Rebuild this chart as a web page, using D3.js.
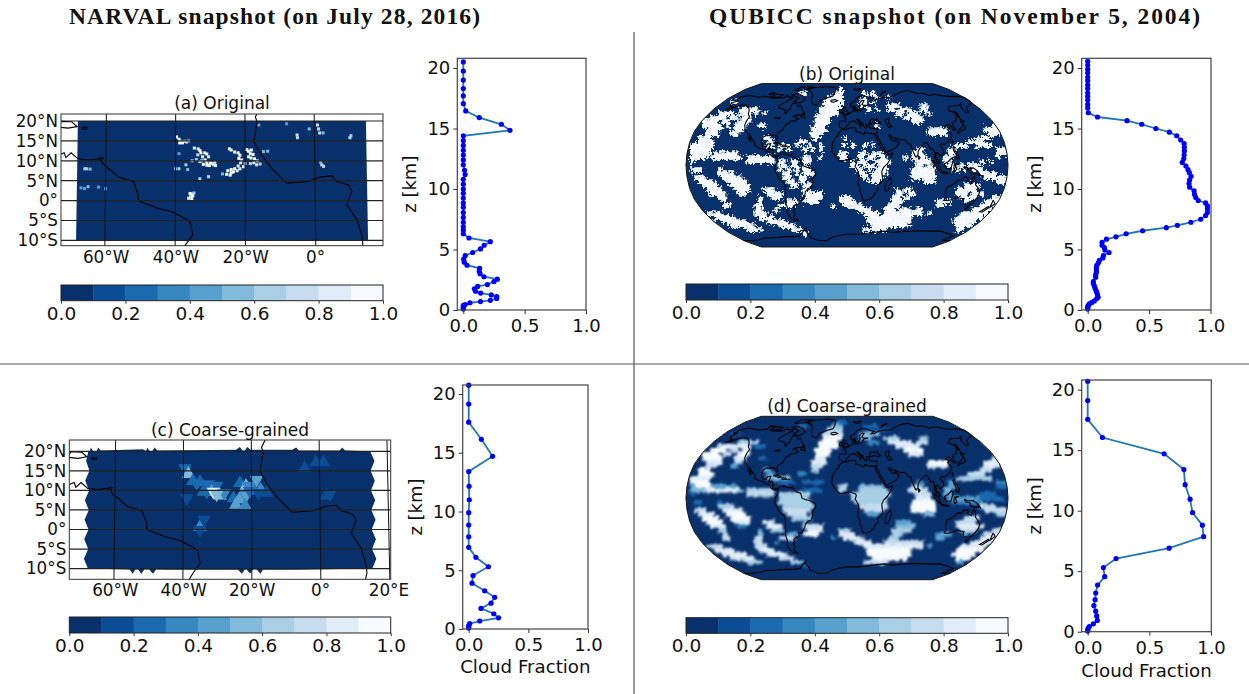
<!DOCTYPE html>
<html>
<head>
<meta charset="utf-8">
<script src="https://cdn.jsdelivr.net/npm/d3@7"></script>
<style>
  body { margin: 0; background: #fff; }
  text { font-family: "DejaVu Sans", sans-serif; fill: #111; }
  .axis .domain { stroke: #333; }
  .axis line { stroke: #333; }
</style>
</head>
<body>
<svg id="fig" width="1249" height="694"></svg>
<script>
// --- data ---
const cmapColors = ['#08306b', '#0a4d94', '#1b69af', '#3787c0', '#58a1cf', '#82badb', '#a9cfe5', '#c7dcef', '#e0ecf8', '#f7fbff'];
const cbarTicks = [0, 0.2, 0.4, 0.6, 0.8, 1];
const cfTicks = [0, 0.5, 1];
const zTicks = [0, 5, 10, 15, 20];
const latTicks = [20, 15, 10, 5, 0, -5, -10];
const lonTicksA = [-60, -40, -20, 0];
const lonTicksC = [-60, -40, -20, 0, 20];

// profiles: cloud fraction against height
const zA = [20.5,19.75,19,18.3,17.7,17.05,16.45,15.9,15.35,14.85,14.4,14,13.6,13.2,12.8,12.4,12,11.55,11.2,10.8,10.4,10,9.65,9.25,8.85,8.5,8.05,7.65,7.25,6.9,6.6,6.3,5.95,5.65,5.35,5.05,4.75,4.5,4.2,3.95,3.7,3.45,3.2,3,2.75,2.55,2.35,2.1,1.95,1.75,1.55,1.4,1.25,1.1,0.95,0.8,0.7,0.6,0.45,0.38,0.27,0.16,0.08];
const cfA = [0,0,0,0,0,0,0.02,0.13,0.31,0.38,0,0,0,0,0,0,0,0.01,0.015,0,0,0,0,0,0,0,0,0,0,0,0,0,0.046,0.22,0.17,0.14,0.076,0.016,0.003,0.008,0.03,0.133,0.13,0.136,0.168,0.277,0.25,0.196,0.117,0.09,0.1,0.141,0.228,0.272,0.272,0.22,0.14,0.054,0.016,0,0,0,0];
const zB = [20.55,20.25,19.9,19.6,19.25,18.95,18.6,18.3,17.95,17.65,17.35,17,16.7,16.3,15.95,15.65,15.35,15,14.7,14.4,14.05,13.75,13.45,13.15,12.8,12.5,12.2,11.9,11.6,11.35,11.05,10.75,10.45,10.15,9.85,9.55,9.3,9.05,8.85,8.6,8.35,8.05,7.8,7.5,7.25,7,6.8,6.55,6.3,6.05,5.85,5.6,5.35,5.15,4.95,4.75,4.5,4.3,4.1,3.9,3.7,3.5,3.3,3.1,2.9,2.7,2.35,2.2,2,1.8,1.6,1.45,1.25,1.05,0.95,0.75,0.63,0.5,0.38,0.28,0.17,0.08];
const cfB = [0,0,0,0,0,0,0,0,0,0,0,0,0,0.005,0.08,0.32,0.44,0.555,0.665,0.725,0.757,0.785,0.787,0.787,0.785,0.782,0.77,0.8,0.817,0.828,0.842,0.83,0.825,0.83,0.866,0.87,0.88,0.9,0.96,0.975,0.975,0.975,0.96,0.92,0.84,0.73,0.64,0.447,0.313,0.23,0.153,0.117,0.117,0.136,0.14,0.174,0.128,0.123,0.095,0.087,0.074,0.071,0.071,0.07,0.065,0.065,0.046,0.046,0.054,0.06,0.068,0.074,0.08,0.085,0.074,0.054,0.033,0.014,0.005,0,0,0];
const zC = [20.75,19.15,17.6,16.15,14.7,13.4,12.15,11,9.9,8.85,7.85,6.95,6.1,5.3,4.55,3.9,3.25,2.7,2.2,1.75,1.3,0.95,0.68,0.45,0.28,0.17,0.08];
const cfC = [0,0,0,0.106,0.2,0,0.003,0.005,0,0,0,0,0.06,0.165,0.036,0.028,0.134,0.218,0.187,0.103,0.21,0.25,0.092,0.008,0,0,0];
const zD = [20.7,19.1,17.55,16.05,14.7,13.4,12.15,10.95,9.85,8.8,7.85,6.9,6.05,5.3,4.55,3.85,3.2,2.65,2.15,1.7,1.3,0.93,0.65,0.43,0.27,0.13,0.05];
const cfD = [0,0,0,0.12,0.62,0.78,0.79,0.83,0.85,0.93,0.94,0.66,0.23,0.127,0.138,0.08,0.065,0.06,0.05,0.065,0.073,0.078,0.046,0.013,0.003,0,0];

// tropical Atlantic, high resolution: [lon, lat, fraction]
const cloudSpotsA = [
  [-39.7,16,.95],[-39,15.4,.95],[-38.5,14.9,.95],[-38,14.5,.95],[-37.4,14.9,.95],[-36.8,14.7,.7],[-38.8,14.5,.95],[-36.2,15,.6],
  [-34.6,13.2,.8],[-33.5,13,.8],[-33,12.6,.95],[-32.7,12,.95],[-33.6,11.5,.7],[-32.2,11,.95],[-31.6,12,.8],[-31,11.7,.95],[-30.5,11,.8],[-31.5,10.2,.95],[-32.5,10,.7],[-33,9.8,.7],[-31,9.5,.95],[-30,9.5,.95],[-29.5,9.3,.95],[-32,9.1,.95],[-31,8.9,.95],[-30.3,8.8,.95],[-29,9,.95],[-28.5,8.8,.8],[-34,10.3,.6],[-35.2,10,.6],[-28.7,9.6,.7],[-37,9,.6],[-39,8,.6],[-40,8,.5],[-36.5,7.8,.5],[-33,5.5,.6],[-30.5,6,.7],[-39,11.8,.4],
  [-24.5,13,.9],[-24,12.7,.95],[-23,12.2,.95],[-22,12,.95],[-21.5,11.4,.95],[-21.8,10.6,.95],[-21,10.2,.95],[-21.3,9.5,.8],[-22,8.7,.8],[-23,8,.95],[-24,7.8,.95],[-25,7.5,.95],[-25.3,6.6,.95],[-24.3,6.4,.95],[-24,7,.95],[-23.4,7.2,.95],[-22.3,7.5,.8],[-21.5,8,.8],[-20.5,8.5,.8],[-20,9.3,.7],[-26.5,6.7,.5],
  [-19.5,12.8,.95],[-19,12.4,.95],[-18.2,12.7,.95],[-18.5,11.8,.95],[-17.7,11.6,.95],[-19,11,.95],[-18.3,10.7,.95],[-17.3,10.5,.95],[-16.5,10,.8],[-17.5,9.5,.8],[-18.5,9.3,.7],[-16.7,9,.8],[-15.7,9.2,.6],[-14.7,12.3,.5],[-13.5,12.4,.5],
  [-35.8,1.8,.95],[-35.3,1.6,.95],[-35,1.2,.95],[-35.7,.9,.95],[-36.2,.6,.95],[-35.3,.5,.9],[-34.7,1.9,.6],
  [-5,16.5,.7],[-4.9,15.8,.7],[-1.5,18,.5],[.9,19,.7],[1.2,18,.7],[1.5,17,.7],[2.5,17,.5],[10.2,15.8,.7],[10.5,16.3,.6],[2,9,.7],[2.5,8.6,.7],[1.7,9.6,.5],
  [-65.5,8,.6],[-66,8,.6],[-64.5,7.9,.5],[-65,3.5,.5],[-67,3.2,.4],[-66,3,.4],[-62,3.4,.4],[-60,3,.4],[-8,19.3,.4],[-16,19,.4]
];
// tropical Atlantic, coarse triangles: [lon, lat, pointing up (1) or down (0), fraction]
const cloudTrisC = [
  [-39.5,15.2,0,.25],[-38.5,14.7,1,.5],[-37.2,12.9,1,.2],[-35.1,12.6,1,.25],[-36.1,11.3,0,.2],[-32.7,11.1,0,.2],[-34.1,10.1,1,.25],[-30.2,10.7,0,.25],[-31.7,10.1,1,.45],[-33.1,9.2,0,.25],[-31.2,9.2,0,.85],[-29.2,9.2,1,.5],[-28,8.8,0,.3],[-30.2,8.5,0,.5],
  [-25.3,8.5,1,.25],[-23.4,12.4,1,.25],[-21.6,11.6,1,.5],[-21,10.7,0,.35],[-18.5,12.2,0,.4],[-17.3,10.7,1,.3],[-19.5,10.5,1,.35],[-23.6,8.2,1,.4],[-21.6,8.2,0,.4],[-24.6,6.8,1,.4],[-21.9,6.6,1,.3],[-20.5,9.4,0,.25],[-18,8.8,0,.15],[-15.6,9.9,1,.15],
  [-39,7.5,0,.15],[-35.1,1.1,1,.3],[-33.9,2,0,.15],[-35.1,-.6,0,.15],[-4.4,16.2,1,.15],[-1,17.7,1,.15],[1.2,17.7,1,.15],[1.9,9.2,1,.15],[2.9,8.5,0,.15]
];
const domainA = [[-68.2,20],[14.9,20],[14.9,-10],[-68.2,-10]];
const domainC = [[-68,20],[-67.6,20],[-67.3,21],[-66.5,20],[-65.6,20],[-65.1,21],[-64.4,20.2],[-57,20.4],[-52,20.5],[-51,20.1],[-50.7,21],[-49.9,20],[-49.2,20],[-48.5,21],[-47.7,20.2],[-24.5,20.4],[-23.4,21.1],[-22.6,20.2],[-21.9,20.2],[-21.2,21.1],[-20.2,20.4],[-8,20.4],[-6.8,21],[-6,20.2],[6,20.2],[6.8,21],[7.6,20.2],[15,20],
  [16.2,17.5],[15,15],[16.2,12.5],[15,10],[16.2,7.5],[15,5],[16.2,2.5],[15,0],[16.2,-2.5],[15,-5],[16.2,-7.5],[15,-10],
  [-8,-10.3],[-16.8,-10.3],[-17.5,-11.3],[-18.6,-10.2],[-19.7,-10.2],[-20.5,-11.3],[-21.5,-10.2],[-22,-10.2],[-22.9,-11.3],[-24,-10.3],[-45,-10.3],[-47.8,-10.2],[-48.7,-11.3],[-49.8,-10.2],[-51.2,-10.2],[-52.1,-11.3],[-53,-10.2],[-53.8,-10.2],[-54.6,-11.3],[-55.5,-10.2],[-67.6,-10],
  [-68.8,-7.5],[-67.6,-5],[-68.8,-2.5],[-67.6,0],[-68.8,2.5],[-67.6,5],[-68.8,7.5],[-67.6,10],[-68.8,12.5],[-67.6,15],[-68.6,17.5]];

// global cloud rows, top to bottom, "first-last" columns of cloudy cells
const cloudRowsB = ["","38","28 29 37-38 44 46","35-38 44 47 50","11-12 34-38 43-44 46","34-38 43-44 50-52 58-59","13-17 33-37 45 47 50-51 53-55 58-59","8-11 13-15 17 19 33-37 52-53 55-57 60","6-9 11-12 14-15 32-35 54-58","4-7 9-10 13-15 32-35 56-58","4-8 10 12-14 18-19 32-34 47 76-78","5-8 12-13 31-34 60-64 74-77","5-7 11-12 31-33 60-64 75-77","3-5 19-20 31-32 39 73-75","3-6 20-21 28-29 70-73","1-6 20-21 23-25 27 30 33 39 41 44 46 67-69 72-75","1-5 23 25 29 31 33 57-58 65-66 77-79","1-5 7-12 38-39 43-44 46-48 56-58 65-66 77-79","1-4 6-13 15-21 29-30 33 38-39 43 45-46 48-49 54 56-59 64-65 77","1 15-21 23-24 26-27 29-30 41 43-44 47-50 57-60 64-65 73 75","23-24 26-27 29 41-42 44-46 48-49 57-58 60 65-66 68 70-72","1-3 8 23 25 27 29-30 42-43 45 47-49 56-61 66-67 69 71-73","8-11 24-25 27 29-31 43-44 46-49 56-61 73-76","2-4 9-13 24-25 28-29 44 46-48 56-61 74-79","3-6 10-14 25-26 28-29 45-47 59-61 77-79","4-7 11-15 26-27 29-30 69-72","5-8 12-15 19-21 29 52 54-55 67-71","6-9 13-14 20-23 29-33 52-53 55-56 67-69 71-73","8-9 18 21-23 30-33 38-40 51-52 54-55 68-71 76-78","9 18 25-27 29-32 38-41 51-53 62-65 69 74-79","9-10 17-18 23-26 36 39-43 50-52 62-63 73-77","17-18 22 42-45 49-51 53-55 57-58 71-75","5-8 17-19 44-47 49-58 60 68-74","7-11 18-21 45-55 67-73","9-14 20-24 45-55 66-71","11-16 23-26 46-54 67-70","15-18 26-28 44-49 67-68","29","","",""];
// same grid, coarse-grained: "first-last:decile"
const cloudRowsD = ["","37-39:2","28-29:2 36-38:5 44-47:2","35-38:6 44-50:1","11-13:1 34-38:7 43-47:5","34-38:9 43-45:5 49-52:6 58-59:6","13-17:6 33-37:9 45-47:3 50-55:8 57-59:7","8-15:8 17-19:2 33-37:9 52-57:8","6-9:9 11-12:7 14-15:9 32-35:9 54-58:9","4-7:9 9-10:7 13-15:9 32-35:9 55-58:8","4-8:9 12-14:8 18-19:2 32-34:8 76-78:7","5-8:8 12-13:6 31-34:8 60-64:9 74-77:8","5-7:7 11-12:4 31-33:7 60-64:8 74-77:8","3-5:9 19-20:4 31-32:6 73-75:7","3-6:9 20-21:4 28-29:3 70-73:7","1-5:8 20-25:5 67-75:6","1-5:9 23-26:2 29-33:2 57-58:3 65-66:4 77-79:3","1-12:4 2-5:9 38-39:6 43-48:5 56-58:6 65-66:4 77-79:2","1-13:5 5-12:8 15-21:6 29-33:2 38-39:7 43-49:6 55-59:7 64-65:5","1:2 15-21:7 23-30:6 41-50:6 57-60:7 64-65:4 73-76:2","23-29:6 41-49:6 57-60:8 65-72:4 73-78:2","2-3:2 8:2 23-30:6 42-49:6 56-61:9 66-73:3","8-11:6 24-31:6 43-49:7 56-61:9 73-76:7","2-4:7 9-13:8 24-30:7 44-48:7 56-61:9 74-79:7","3-6:8 10-14:9 25-29:7 45-47:4 59-61:5 77-79:6","4-7:9 11-15:9 26-30:6 69-72:7","5-8:9 12-15:8 19-21:8 29:4 52-55:4 67-71:7","6-9:8 13-14:3 20-23:8 29-33:7 52-56:5 67-73:8","8-9:6 18:4 21-23:6 30-33:8 38-40:6 51-55:6 68-71:7 76-78:7","9:7 18:5 25-27:4 29-32:9 38-41:8 51-53:6 62-65:4 69:4 74-79:7","9-10:7 17-18:7 23-26:7 36:3 39-43:8 50-52:6 62-63:4 73-77:8","17-18:7 22:3 42-45:8 49-58:7 71-75:8","5-8:7 17-19:7 44-58:8 60:4 68-74:8","7-11:8 18-21:8 45-55:9 67-73:9","9-14:8 20-24:8 45-55:9 66-71:9","11-16:8 23-26:7 46-54:9 67-70:9","15-18:6 26-28:6 44-49:7 67-68:4","29:2","","",""];

// coastlines, lon/lat
const coastLines = [
  [[-168,65.5],[-164,66.5],[-166,68.5],[-156.5,71.2],[-148,70.4],[-141,69.7],[-135,69],[-128,70],[-120,69.5],[-115,68],[-108,68],[-100,68],[-96,68.5],[-94,71.5],[-90,69],[-85,69.5],[-81.5,68],[-86,66],[-88,64],[-93,61.5],[-94.8,59],[-92.5,57],[-88,56.5],[-85,55.3],[-82.2,55],[-82,52.8],[-79.5,51.3],[-79,54],[-77,56],[-78,58.7],[-77.5,62.3],[-73.5,62.3],[-70,61],[-68,58.5],[-65,60],[-62,57.5],[-60,55],[-56,52.5],[-59,50],[-65,50],[-69,48],[-65,49],[-64.5,47],[-61,46],[-65,43.7],[-70,43.7],[-70.5,41.7],[-74,40.5],[-75.5,37.5],[-76,35],[-78,33.8],[-81,32],[-81.3,29.5],[-80,26.8],[-80.5,25.2],[-82,27],[-83,29],[-85,29.7],[-89,30],[-90,29.2],[-94,29.5],[-97.2,27.7],[-97.8,22.5],[-95.5,18.8],[-92,18.5],[-90.5,21],[-87,21.4],[-88,17.5],[-88.8,15.8],[-84,15.8],[-83.4,12],[-83.7,10],[-81,9],[-79.5,9.5],[-77.5,8.7]],
  [[-77.5,7.5],[-80,7.5],[-83,8.2],[-85.7,10],[-87.5,13],[-91.5,14],[-94.5,16.2],[-99,16.7],[-105,19.5],[-105.5,22.5],[-109,25.5],[-112.5,29.5],[-114.7,31.7],[-112,27],[-109.8,23],[-112,25],[-115,28],[-117,32.5],[-120.5,34.5],[-124,40],[-124.5,44],[-124,48],[-128,51],[-130.5,54.5],[-135,58],[-140,60],[-146,60.5],[-152,59],[-158,56],[-163,55],[-158,58.5],[-162,59],[-165,61.5],[-164,63],[-161,64.5],[-168,65.5]],
  [[-77.5,8.7],[-75.5,10.8],[-72,12],[-71.5,10.8],[-70,12],[-68,10.5],[-65,10.2],[-62,10.5],[-60.5,9],[-58.7,7.7],[-56.3,5.9],[-52,4.8],[-50.6,1.4],[-50.6,0],[-48.7,-0.7],[-44.9,-1.9],[-40.6,-2.9],[-37,-4.6],[-35.8,-5.3],[-35,-8.6],[-37.2,-11.3],[-39,-14],[-39,-18],[-41,-22],[-44.5,-23],[-48,-26],[-48.7,-28.5],[-52,-32.5],[-54,-34.7],[-57,-34.5],[-57,-36.5],[-58,-38.3],[-62,-39],[-65,-41],[-64,-42.5],[-67.5,-46],[-66,-48],[-69,-51],[-68,-53],[-65.5,-55],[-70,-55],[-74,-52],[-75.5,-47],[-73,-42],[-73.5,-37],[-71.5,-30],[-70.3,-20],[-71,-17.5],[-76,-14],[-79,-8],[-81,-5],[-80,-2.5],[-80.5,0.5],[-78,2.5],[-77.5,4],[-77.5,7.5]],
  [[-5.9,35.8],[-2,35.2],[3,36.9],[10,37.3],[11,34],[10.2,33.5],[15,32.5],[19.5,30.4],[21,32.8],[25,31.7],[30,31.2],[32.5,31.2],[32.6,29.9],[34,26.5],[36,23],[37.3,20.5],[38.5,18],[41,15],[43.3,12],[44.5,10.5],[51.2,11.8],[49,7],[45.5,2],[41,-2],[39,-6],[39.5,-10],[40.7,-15],[35,-20],[35.5,-24],[32.8,-26],[32,-29],[28,-33],[25.5,-34],[20,-34.8],[18.3,-33.5],[17,-29],[15,-26],[14.5,-22],[11.8,-17],[13.4,-11.1],[13.2,-9],[11.9,-4.9],[9,-1],[10.5,2.3],[9.6,3.9],[6.2,4.8],[4.8,6.2],[1.4,5.9],[-1.9,4.8],[-8.1,4.4],[-12.4,8.1],[-15.3,11.5],[-17.5,14.8],[-16.5,19.8],[-17,21],[-15,24.5],[-13,27.7],[-9.8,30],[-9.3,32.7],[-6.5,34.5],[-5.9,35.8]],
  [[-5.5,36],[-2,36.8],[0,39],[3,41.8],[3.5,43.3],[6.5,43],[8.7,44.3],[10.5,43],[12.5,41.5],[15.5,40],[16,38],[17,39.5],[18.4,40],[16,41.8],[13.5,44],[12.4,45.4],[13.8,45.6],[15.5,43.5],[19.3,41.8],[19.5,40],[21.5,37],[23,36.5],[24,38],[23,40.5],[26,40.8],[29,41.2],[28,43],[29.7,45.5],[33,46],[33.5,44.5],[36.5,45.2],[38.5,47],[37,45],[39,43.5],[41.5,42],[38,41],[33,42],[30,41],[27,40.5],[26.5,38.5],[27.5,36.8],[30.5,36.5],[33,36.2],[36,36.8],[36,34],[34.9,31.5],[32.5,31.2]],
  [[32.6,29.9],[34.8,29.5],[37,25.5],[39,21.5],[42.5,16.5],[43.5,13],[45,12.8],[52,15.8],[55.5,17.5],[58.5,20.5],[59.8,22.5],[56.5,24.5],[56.3,26],[54,24],[51.5,25],[50,26.5],[48,29.5],[50,30],[52,27.5],[56.5,27],[61,25.2],[66.5,25.3],[68.3,23.5],[70,21],[72.8,21],[73,17],[74.8,13],[76.5,9],[77.5,8],[79.8,10.5],[80.3,14],[82.3,16.7],[86.5,20],[88,22],[91,22.5],[92.5,20],[94.5,16],[97.5,16.5],[98.5,12],[98.3,8],[100.5,4],[103.5,1.4],[104,2.5],[103,5],[100,7],[99.8,12.5],[102,12.5],[105,9],[106.8,10.5],[109.2,12],[108.5,16],[105.8,19],[108,21.5],[110.5,20.5],[114,22.3],[118,24.5],[120.5,27.5],[122,30],[120.8,32.5],[119.3,35],[122.5,37],[118,38.5],[121.5,40],[124.5,40],[125.5,37.7],[126.5,34.5],[129.3,35.2],[128,39],[130.5,42.5],[135,44],[140,48.5],[141,52.5],[137,54],[135.5,54.8],[142,59],[150,59.5],[155,59.5],[163,62],[156,57.5],[156,52],[160,53],[163,57],[170,60],[179,62.5],[179.9,65],[179.9,69],[170,70],[160,69.8],[150,71],[140,72.8],[130,71],[125,73.5],[113,73.5],[105,77.5],[90,75.5],[80,73],[73,71],[68,69],[60,69],[50,68],[44,66.5],[40,64.7],[35,64.5],[38,66],[41,67],[33,69.3],[25,71],[15,68.5],[12,65],[5,62],[5.5,58.7],[8,58],[10.5,59.5],[12,56],[12.5,55.5],[16,56],[18.5,59.5],[17.5,62],[22,65.5],[25,65],[21,61],[23,60],[30,60],[23.5,59],[21,56.5],[19,54.5],[14,54],[10.5,54],[10.5,57.5],[8,56.5],[8.5,54],[4,52],[1.5,50.5],[-1.5,49.5],[-4.5,48.5],[-1.5,46.5],[-1.5,43.5],[-9,43.5],[-9.5,38.5],[-7,37],[-5.5,36]],
  [[114,-22],[113.5,-26],[115.5,-31.5],[115,-34.3],[118,-35],[123.5,-34],[129,-31.6],[134,-32.7],[137.8,-33],[138,-35.5],[140,-38],[144,-38.5],[147,-39],[150,-37.5],[153,-31],[153,-26],[149.5,-22],[146,-19],[145.3,-15],[143,-11],[141.5,-13],[140.8,-17.5],[136,-15],[136.8,-12.2],[132,-11.5],[129.5,-15],[125.5,-14.5],[122,-18],[118,-20.3],[114,-22]],
  [[-55,82],[-35,83.5],[-20,81],[-20,75],[-22,70.5],[-32,68],[-40,65],[-43,60],[-50,62],[-53.5,67],[-54,71],[-60,76],[-70,78],[-62,81.5],[-55,82]],
  [[-179.9,-78],[-165,-78],[-150,-77],[-135,-74.5],[-115,-74],[-100,-73],[-85,-73],[-75,-72],[-68,-68],[-60,-64],[-62,-66],[-60,-70],[-60,-74],[-50,-78],[-35,-78],[-25,-74],[-15,-72],[0,-70],[20,-70],[40,-68],[55,-66.5],[70,-68],[80,-67],[100,-66],[120,-66.5],[140,-66.5],[160,-70],[170,-72],[165,-78],[179.9,-78]],
  [[-84.5,22],[-80,23],[-75,20.5],[-78,20],[-82,22],[-84.5,22]],
  [[-74.3,18.5],[-73,19.9],[-70,19.8],[-68.4,18.6],[-71,18.2],[-74.3,18.5]],
  [[-67,18.4],[-65.6,18.4],[-65.6,18],[-67,18],[-67,18.4]],
  [[-61.9,10.7],[-60.9,10.8],[-61,10.1],[-61.9,10.1],[-61.9,10.7]],
  [[-5.5,50],[1.3,51.2],[1.5,52.8],[-1.5,55],[-2,57.5],[-5,58.5],[-5.5,56],[-3,54],[-5,52],[-5.5,50]],
  [[-10,52],[-6,52.2],[-6,55],[-8.5,55],[-10,54],[-10,52]],
  [[-24,65.5],[-18,66.3],[-14,65],[-19,63.4],[-23,64],[-24,65.5]],
  [[130,33],[132,35],[136,36.5],[140,39.5],[141.5,41],[142,39],[140.5,35.5],[137,34.5],[133,33.5],[130,31.5],[130,33]],
  [[140,42],[142,45.3],[145,43.5],[141,42],[140,42]],
  [[142,46],[143,50],[143,54],[142,52],[142,46]],
  [[120,23],[121.5,25],[121,22],[120,23]],
  [[120,18],[122,18],[122,14],[124,13],[126,8],[125,6],[122,7],[123,10],[120.5,14],[120,18]],
  [[95.5,5.5],[100,2],[104,-2],[106,-6],[102,-4],[98,1],[95.5,5.5]],
  [[105.5,-6.5],[110,-6.5],[114.5,-7.8],[110,-8.2],[105.5,-7],[105.5,-6.5]],
  [[109,1.5],[113,3.5],[117,7],[119,5],[117.5,1],[116,-3.5],[111,-3],[109,0],[109,1.5]],
  [[120,1],[125,1.5],[121,0],[123,-4],[120.5,-5.5],[119.5,-3],[120,1]],
  [[131,-1],[135,-3],[141,-2.5],[146,-5.5],[150.5,-10.5],[146,-8.5],[143,-9],[138,-7.5],[138,-5],[133,-4],[131,-1]],
  [[80,9.5],[82,7.5],[80.5,6],[79.8,8],[80,9.5]],
  [[49.3,-12],[50.5,-16],[47,-25],[44,-25],[43.5,-21],[44.5,-16.5],[49.3,-12]],
  [[173,-34.5],[178,-38],[175,-41.5],[174,-39],[173,-34.5]],
  [[172.5,-40.5],[174,-42],[170,-46.5],[166.5,-46],[172.5,-40.5]],
  [[145,-41],[148,-41],[147.5,-43.5],[146,-43.5],[145,-41]],
  [[47,45],[53,46.5],[51,42],[54,38],[50,37.5],[48,42],[47,45]],
  [[-62,66],[-68,62.5],[-78,64.5],[-73,68],[-80,70],[-88,72],[-80,73.5],[-70,71],[-62,66]],
  [[-117,69.5],[-105,69],[-102,72],[-115,73],[-117,69.5]],
  [[-90,77],[-75,78],[-62,82.5],[-85,82.5],[-90,77]],
  [[-125,72],[-118,74],[-124,74.5],[-125,72]],
  [[-59,47.8],[-56,51.5],[-53,47],[-59,47.8]],
  [[11,79],[25,80],[20,77],[11,79]],
  [[52,71],[68,76.8],[60,75.5],[52,71]],
  [[-92,46.8],[-85,47.5],[-85,46],[-92,46.8]]
];
// Robinson table, every 5 degrees of latitude
const robinsonLen = [1,0.9986,0.9954,0.99,0.9822,0.973,0.96,0.9427,0.9216,0.8962,0.8679,0.835,0.7986,0.7597,0.7186,0.6732,0.6213,0.5722,0.5322];
const robinsonDrop = [0,0.062,0.124,0.186,0.248,0.31,0.372,0.434,0.4958,0.5571,0.6176,0.6769,0.7346,0.7903,0.8435,0.8936,0.9394,0.9761,1];

// --- drawing ---
const svg = d3.select('#fig');
const cfColor = d3.scaleQuantize().domain([0, 1]).range(cmapColors);
const TICK_FONT = 18.5;
const MAP_FONT = 16.8;
const AXIS_FONT = 18;
const defs = svg.append('defs');
defs.append('filter').attr('id', 'soft').append('feGaussianBlur').attr('stdDeviation', 0.5);

// frayed edges for the cell blocks of the global maps
function roughFilter(id, freq, shift, blur) {
  const f = defs.append('filter').attr('id', id).attr('color-interpolation-filters', 'sRGB');
  f.append('feTurbulence').attr('type', 'fractalNoise').attr('baseFrequency', freq).attr('numOctaves', 2).attr('seed', 4).attr('result', 'n');
  f.append('feDisplacementMap').attr('in', 'SourceGraphic').attr('in2', 'n').attr('scale', shift)
    .attr('xChannelSelector', 'R').attr('yChannelSelector', 'G').attr('result', 'd');
  f.append('feGaussianBlur').attr('in', 'd').attr('stdDeviation', blur);
}
roughFilter('rough', 0.4, 9, 0.45);
roughFilter('roughSoft', 0.3, 6, 0.8);

function addClip(id, build) {
  build(defs.append('clipPath').attr('id', id));
  return `url(#${id})`;
}

function colorbar(x0, x1, y0, y1) {
  const x = d3.scaleLinear().domain([0, 1]).range([x0, x1]);
  const g = svg.append('g');
  g.selectAll('rect').data(cmapColors).join('rect')
    .attr('x', (d, i) => x(i / 10))
    .attr('width', (x1 - x0) / 10 + 0.4)
    .attr('y', y0)
    .attr('height', y1 - y0)
    .attr('fill', d => d);
  g.append('rect')
    .attr('x', x0).attr('y', y0).attr('width', x1 - x0).attr('height', y1 - y0)
    .attr('fill', 'none').attr('stroke', '#222').attr('stroke-width', 1);
  const ax = g.append('g').attr('class', 'axis')
    .attr('transform', `translate(0,${y1})`)
    .call(d3.axisBottom(x).tickValues(cbarTicks).tickFormat(d3.format('.1f')).tickSize(3).tickPadding(3));
  ax.select('.domain').remove();
  ax.selectAll('text').attr('font-size', TICK_FONT);
}

function profile(cf, z, box, xlabelGap) {
  const x = d3.scaleLinear().domain([0, 1]).range([box.x0, box.x1]);
  const y = d3.scaleLinear().domain([0, 20]).range([box.y0, box.y20]);
  const g = svg.append('g');
  const pts = d3.zip(cf, z);
  g.append('path').datum(pts)
    .attr('fill', 'none').attr('stroke', '#1f77b4').attr('stroke-width', 1.8)
    .attr('d', d3.line().x(d => x(d[0])).y(d => y(d[1])));
  g.selectAll('circle').data(pts).join('circle')
    .attr('cx', d => x(d[0])).attr('cy', d => y(d[1])).attr('r', 2.6).attr('fill', '#0000ff');
  g.append('rect')
    .attr('x', box.left).attr('y', box.top).attr('width', box.right - box.left).attr('height', box.y0 - box.top)
    .attr('fill', 'none').attr('stroke', '#444').attr('stroke-width', 1.2);
  const xAx = g.append('g').attr('class', 'axis').attr('transform', `translate(0,${box.y0})`)
    .call(d3.axisBottom(x).tickValues(cfTicks).tickFormat(d3.format('.1f')).tickSize(4).tickPadding(5.5));
  const yAx = g.append('g').attr('class', 'axis').attr('transform', `translate(${box.left},0)`)
    .call(d3.axisLeft(y).tickValues(zTicks).tickSize(4).tickPadding(3));
  xAx.select('.domain').remove();
  yAx.select('.domain').remove();
  xAx.selectAll('text').attr('font-size', AXIS_FONT);
  yAx.selectAll('text').attr('font-size', AXIS_FONT);
  g.append('text')
    .attr('transform', `translate(${box.left - 41},${(box.top + box.y0) / 2}) rotate(-90)`)
    .attr('text-anchor', 'middle').attr('font-size', AXIS_FONT).text('z [km]');
  if (xlabelGap) {
    g.append('text').attr('x', (box.left + box.right) / 2).attr('y', box.y0 + xlabelGap)
      .attr('text-anchor', 'middle').attr('font-size', 18.2).text('Cloud Fraction');
  }
}

// regional map: straight parallels, meridians opening slightly towards the south
function regionalProjection(m) {
  const x = d3.scaleLinear().domain([0, 1]).range([m.lon0, m.lon0 + m.kx]);
  const y = d3.scaleLinear().domain([0, 1]).range([m.lat0, m.lat0 - m.ky]);
  return (lon, lat) => [x(lon) + 0.0016 * (lon + 30) * (5 - lat), y(lat)];
}

function regionalMap(id, m, domain, drawClouds, lonTicks, title) {
  const project = regionalProjection(m);
  const line = d3.line().x(d => project(d[0], d[1])[0]).y(d => project(d[0], d[1])[1]);
  const g = svg.append('g');
  const clip = addClip(id, c => c.append('rect').attr('x', m.left).attr('y', m.top).attr('width', m.right - m.left).attr('height', m.bottom - m.top));
  const inner = g.append('g').attr('clip-path', clip);
  inner.append('path').attr('d', line(domain) + 'Z').attr('fill', cmapColors[0]);
  drawClouds(inner, project, line);
  coastLines.forEach(c => {
    inner.append('path').attr('d', line(c)).attr('fill', 'none').attr('stroke', '#000').attr('stroke-width', 1.1);
  });
  latTicks.forEach(lat => {
    inner.append('path').attr('d', line([[-90, lat], [40, lat]])).attr('stroke', '#222').attr('stroke-width', 1.2).attr('fill', 'none');
  });
  lonTicksC.forEach(lon => {
    inner.append('path').attr('d', line([[lon, 30], [lon, -20]])).attr('stroke', '#111').attr('stroke-width', 1).attr('fill', 'none');
  });
  g.append('rect').attr('x', m.left).attr('y', m.top).attr('width', m.right - m.left).attr('height', m.bottom - m.top)
    .attr('fill', 'none').attr('stroke', '#333').attr('stroke-width', 1);

  const lonScale = d3.scaleLinear().domain([0, 1]).range([m.lon0, m.lon0 + m.kx]);
  const latScale = d3.scaleLinear().domain([0, 1]).range([m.lat0, m.lat0 - m.ky]);
  const xAx = g.append('g').attr('class', 'axis').attr('transform', `translate(0,${m.bottom})`)
    .call(d3.axisBottom(lonScale).tickValues(lonTicks).tickSize(0).tickPadding(5)
      .tickFormat(d => d === 0 ? '0°' : d < 0 ? `${-d}°W` : `${d}°E`));
  const yAx = g.append('g').attr('class', 'axis').attr('transform', `translate(${m.left},0)`)
    .call(d3.axisLeft(latScale).tickValues(latTicks).tickSize(0).tickPadding(3)
      .tickFormat(d => d === 0 ? '0°' : d < 0 ? `${-d}°S` : `${d}°N`));
  xAx.select('.domain').remove();
  yAx.select('.domain').remove();
  xAx.selectAll('text').attr('font-size', MAP_FONT);
  yAx.selectAll('text').attr('font-size', MAP_FONT);
  g.append('text').attr('x', title.x).attr('y', title.y).attr('text-anchor', 'middle').attr('font-size', 17).text(title.text);
}

// Robinson through d3's own projection machinery
function robinsonRaw(lambda, phi) {
  const deg = Math.abs(phi) * 180 / Math.PI;
  const i = Math.min(17, Math.floor(deg / 5));
  const t = deg / 5 - i;
  const len = robinsonLen[i] + (robinsonLen[i + 1] - robinsonLen[i]) * t;
  const drop = robinsonDrop[i] + (robinsonDrop[i + 1] - robinsonDrop[i]) * t;
  return [0.8487 * len * lambda, 1.3523 * drop * (phi < 0 ? -1 : 1)];
}

function parseRuns(rows, defaultDecile) {
  const out = [];
  rows.forEach((row, r) => {
    if (!row) return;
    row.split(' ').forEach(tok => {
      const [span, dec] = tok.split(':');
      const [a, b] = span.split('-').map(Number);
      out.push({ r, a, b: b === undefined ? a : b, v: (dec === undefined ? defaultDecile : +dec) / 10 + 0.05 });
    });
  });
  return out;
}

function globalMap(id, cx, cy, rows, defaultDecile, filter, title) {
  const proj = d3.geoProjection(robinsonRaw).scale(60.4).translate([cx, cy]).precision(0.5);
  const geo = d3.geoPath(proj);
  const g = svg.append('g');
  const sphere = geo({ type: 'Sphere' });
  const clip = addClip(id, c => c.append('path').attr('d', sphere));
  const inner = g.append('g').attr('clip-path', clip);
  inner.append('path').attr('d', sphere).attr('fill', cmapColors[0]);
  const col = d3.scaleBand().domain(d3.range(80)).range([cx - 161, cx + 161]);
  const row = d3.scaleBand().domain(d3.range(41)).range([cy - 82, cy + 82]);
  inner.append('g').attr('filter', `url(#${filter})`)
    .selectAll('rect').data(parseRuns(rows, defaultDecile)).join('rect')
    .attr('x', d => col(d.a))
    .attr('y', d => row(d.r))
    .attr('width', d => col(d.b) - col(d.a) + col.bandwidth())
    .attr('height', row.bandwidth() + 0.6)
    .attr('fill', d => cfColor(d.v));
  coastLines.forEach(c => {
    g.append('path').datum({ type: 'LineString', coordinates: c }).attr('d', geo)
      .attr('fill', 'none').attr('stroke', '#000').attr('stroke-width', 1.1);
  });
  g.append('path').attr('d', sphere).attr('fill', 'none').attr('stroke', '#111').attr('stroke-width', 1);
  g.append('text').attr('x', title.x).attr('y', title.y).attr('text-anchor', 'middle').attr('font-size', 17).text(title.text);
}

// panel (a)
regionalMap('clipA', { lon0: 315, kx: 3.49, lat0: 200.6, ky: 3.98, left: 61, right: 383, top: 114, bottom: 245.7 }, domainA,
  (inner, project) => {
    inner.append('g').attr('filter', 'url(#soft)')
      .selectAll('rect').data(cloudSpotsA).join('rect')
      .attr('x', d => project(d[0], d[1])[0] - 1.5)
      .attr('y', d => project(d[0], d[1])[1] - 1.5)
      .attr('width', 3).attr('height', 3)
      .attr('fill', d => cfColor(d[2]));
  }, lonTicksA, { x: 222, y: 109, text: '(a) Original' });
colorbar(61, 383, 285, 300.7);
profile(cfA, zA, { x0: 463.3, x1: 586, y0: 310, y20: 68, left: 457.3, right: 586, top: 58.3 }, 0);

// panel (b)
globalMap('clipB', 847, 165.3, cloudRowsB, 9, 'rough', { x: 847, y: 80, text: '(b) Original' });
colorbar(686, 1008, 284, 300);
profile(cfB, zB, { x0: 1087.7, x1: 1210.5, y0: 310, y20: 68, left: 1081.7, right: 1211, top: 58.3 }, 0);

// panel (c)
regionalMap('clipC', { lon0: 320, kx: 3.42, lat0: 529.5, ky: 3.91, left: 69.3, right: 390.7, top: 440, bottom: 579.3 }, domainC,
  (inner, project, line) => {
    inner.selectAll('path.tri').data(cloudTrisC).join('path').attr('class', 'tri')
      .attr('d', d => {
        const dy = d[2] ? 1.5 : -1.5;
        return line([[d[0] - 2, d[1] - dy], [d[0] + 2, d[1] - dy], [d[0], d[1] + dy]]) + 'Z';
      })
      .attr('fill', d => cfColor(d[3]));
  }, lonTicksC, { x: 230, y: 436, text: '(c) Coarse-grained' });
colorbar(69.3, 390.7, 617, 633);
profile(cfC, zC, { x0: 468.7, x1: 588, y0: 629, y20: 394, left: 462.7, right: 588, top: 385 }, 44);

// panel (d)
globalMap('clipD', 847, 498, cloudRowsD, 9, 'roughSoft', { x: 847, y: 412, text: '(d) Coarse-grained' });
colorbar(686, 1008, 617.7, 633.3);
profile(cfD, zD, { x0: 1087.7, x1: 1211, y0: 631.7, y20: 389.7, left: 1081.7, right: 1211.3, top: 380 }, 45);

// separators and column titles
svg.append('line').attr('x1', 634).attr('x2', 634).attr('y1', 32).attr('y2', 694).attr('stroke', '#555').attr('stroke-width', 1.2);
svg.append('line').attr('x1', 0).attr('x2', 1249).attr('y1', 364).attr('y2', 364).attr('stroke', '#555').attr('stroke-width', 1.2);
[['NARVAL snapshot (on July 28, 2016)', 69, 411], ['QUBICC snapshot (on November 5, 2004)', 709, 491]].forEach(t => {
  svg.append('text').attr('x', t[1]).attr('y', 24)
    .attr('textLength', t[2]).attr('lengthAdjust', 'spacing')
    .style('font-family', '"Liberation Serif", serif').style('font-weight', 'bold')
    .attr('font-size', 23.5).text(t[0]);
});
</script>
</body>
</html>
